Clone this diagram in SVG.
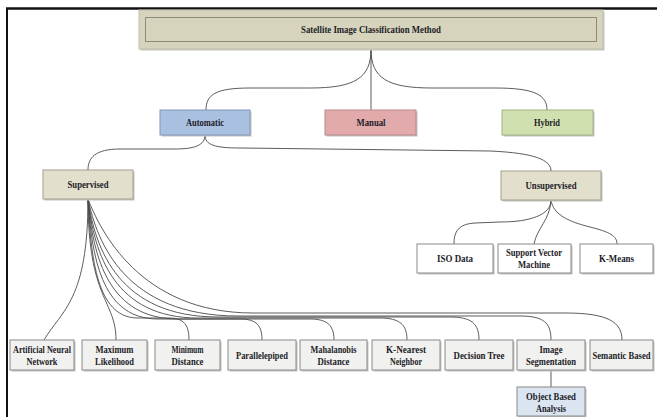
<svg xmlns="http://www.w3.org/2000/svg" width="657" height="417" viewBox="0 0 657 417">
<defs>
<style>
text{font-family:"Liberation Serif","Times New Roman",serif;font-weight:bold;font-size:10.5px;fill:#1c1c28;text-anchor:middle}
.sh{fill:#c4c4c0}
.con path{fill:none;stroke:#4a4a4a;stroke-width:0.9}
.leaf{fill:#f1f1ef;stroke:#8a8a88;stroke-width:1}
.white{fill:#ffffff;stroke:#8a8a88;stroke-width:1}
.beige{fill:#e2e0cd;stroke:#a3a08c;stroke-width:1}
</style>
</defs>
<rect width="657" height="417" fill="#ffffff"/>
<line x1="6" y1="8.5" x2="657" y2="8.5" stroke="#111" stroke-width="2.5"/>
<line x1="7" y1="8" x2="7" y2="417" stroke="#111" stroke-width="2"/>

<g class="con">
<path d="M371 49 C371 78 355 88 310 88 L250 88 C215 88 206 95 206 110"/>
<path d="M371 49 L371 110"/>
<path d="M371 49 C371 78 387 88 432 88 L495 88 C535 88 547 95 547 110"/>
<path d="M205 135 C205 145 195 149 175 149 L120 149 C95 149 88 158 88 170"/>
<path d="M205 135 C205 145 215 148 240 148 L490 151 C535 153 551 160 551 171"/>
<path d="M551 200 C551 215 530 222 500 222 L475 223 C458 224 454 232 454 244"/>
<path d="M551 200 C550 220 537 228 534 244"/>
<path d="M551 200 C553 215 570 222 590 227 C610 232 617 236 617 244"/>
<path d="M88 199 C88 300 62 310 44 340"/>
<path d="M88 199 C88 300 116 300 116 340"/>
<path d="M88 199 C91 270 100.5 318 138 318 L169 318 C184 318 189 325 189 340"/>
<path d="M88 199 C92 265 105 319 158 319 L240 319 C257 319 262 326 262 340"/>
<path d="M88 199 C93 260 110 319 178 319 L310 319 C328 319 334 326 334 340"/>
<path d="M88 199 C94 255 115 318 198 318 L380 318 C400 318 407 325 407 340"/>
<path d="M88 199 C95 250 120 317 218 317 L450 317 C472 317 479 324 479 340"/>
<path d="M88 199 C97 242 125 316 238 316 L520 316 C544 316 551 323 551 340"/>
<path d="M88 199 C100 230 140 313 253 313 L565 313 C608 313 622 322 622 340"/>
<path d="M551 370 L551 387"/>
</g>

<g id="title">
<rect class="sh" x="140.5" y="11.5" width="464" height="39"/>
<rect x="139" y="10" width="464" height="39" fill="#d6d4bd" stroke="#c2c0aa" stroke-width="1"/>
<rect x="145.5" y="17.5" width="451" height="24" fill="none" stroke="#8e8c78" stroke-width="1"/>
<text x="371" y="32.5" textLength="140" lengthAdjust="spacingAndGlyphs">Satellite Image Classification Method</text>
</g>

<g id="automatic">
<rect class="sh" x="161.5" y="111.5" width="90" height="25"/>
<rect x="160" y="110" width="90" height="25" fill="#a9c0e0" stroke="#8098b8" stroke-width="1"/>
<text x="205" y="126" textLength="38" lengthAdjust="spacingAndGlyphs">Automatic</text>
</g>
<g id="manual">
<rect class="sh" x="326.5" y="111.5" width="91" height="25"/>
<rect x="325" y="110" width="91" height="25" fill="#e2aaab" stroke="#b88a8b" stroke-width="1"/>
<text x="371" y="126" textLength="29" lengthAdjust="spacingAndGlyphs">Manual</text>
</g>
<g id="hybrid">
<rect class="sh" x="503.5" y="111.5" width="91" height="25"/>
<rect x="502" y="110" width="91" height="25" fill="#d0e1af" stroke="#a0b284" stroke-width="1"/>
<text x="547" y="126" textLength="26" lengthAdjust="spacingAndGlyphs">Hybrid</text>
</g>

<g id="supervised">
<rect class="sh" x="44.5" y="171.5" width="90" height="29"/>
<rect class="beige" x="43" y="170" width="90" height="29"/>
<text x="88" y="188" textLength="41" lengthAdjust="spacingAndGlyphs">Supervised</text>
</g>
<g id="unsupervised">
<rect class="sh" x="502.5" y="172.5" width="100" height="29"/>
<rect class="beige" x="501" y="171" width="100" height="29"/>
<text x="551" y="189" textLength="51" lengthAdjust="spacingAndGlyphs">Unsupervised</text>
</g>

<g id="isodata">
<rect class="sh" x="418.5" y="245.5" width="76" height="29"/>
<rect class="white" x="417" y="244" width="76" height="29"/>
<text x="455" y="262" textLength="36" lengthAdjust="spacingAndGlyphs">ISO Data</text>
</g>
<g id="svm">
<rect class="sh" x="499.5" y="245.5" width="73" height="29"/>
<rect class="white" x="498" y="244" width="73" height="29"/>
<text x="534" y="256" textLength="56" lengthAdjust="spacingAndGlyphs">Support Vector</text>
<text x="534" y="268" textLength="32" lengthAdjust="spacingAndGlyphs">Machine</text>
</g>
<g id="kmeans">
<rect class="sh" x="581.5" y="245.5" width="73" height="29"/>
<rect class="white" x="580" y="244" width="73" height="29"/>
<text x="616.5" y="262" textLength="35" lengthAdjust="spacingAndGlyphs">K-Means</text>
</g>

<g id="ann">
<rect class="sh" x="11.5" y="341.5" width="64" height="30"/>
<rect class="leaf" x="10" y="340" width="64" height="30"/>
<text x="42" y="353" textLength="58" lengthAdjust="spacingAndGlyphs">Artificial Neural</text>
<text x="42" y="365" textLength="31" lengthAdjust="spacingAndGlyphs">Network</text>
</g>
<g id="ml">
<rect class="sh" x="83.5" y="341.5" width="65" height="30"/>
<rect class="leaf" x="82" y="340" width="65" height="30"/>
<text x="114.5" y="353" textLength="38" lengthAdjust="spacingAndGlyphs">Maximum</text>
<text x="114.5" y="365" textLength="39" lengthAdjust="spacingAndGlyphs">Likelihood</text>
</g>
<g id="mind">
<rect class="sh" x="156.5" y="341.5" width="65" height="30"/>
<rect class="leaf" x="155" y="340" width="65" height="30"/>
<text x="187.5" y="353" textLength="32" lengthAdjust="spacingAndGlyphs">Minimum</text>
<text x="187.5" y="365" textLength="32" lengthAdjust="spacingAndGlyphs">Distance</text>
</g>
<g id="parallelepiped">
<rect class="sh" x="229.5" y="341.5" width="68" height="30"/>
<rect class="leaf" x="228" y="340" width="68" height="30"/>
<text x="262" y="359" textLength="52" lengthAdjust="spacingAndGlyphs">Parallelepiped</text>
</g>
<g id="mahalanobis">
<rect class="sh" x="301.5" y="341.5" width="67" height="30"/>
<rect class="leaf" x="300" y="340" width="67" height="30"/>
<text x="333.5" y="353" textLength="46" lengthAdjust="spacingAndGlyphs">Mahalanobis</text>
<text x="333.5" y="365" textLength="32" lengthAdjust="spacingAndGlyphs">Distance</text>
</g>
<g id="knn">
<rect class="sh" x="373.5" y="341.5" width="68" height="30"/>
<rect class="leaf" x="372" y="340" width="68" height="30"/>
<text x="406" y="353" textLength="40" lengthAdjust="spacingAndGlyphs">K-Nearest</text>
<text x="406" y="365" textLength="32" lengthAdjust="spacingAndGlyphs">Neighbor</text>
</g>
<g id="decisiontree">
<rect class="sh" x="446.5" y="341.5" width="68" height="30"/>
<rect class="leaf" x="445" y="340" width="68" height="30"/>
<text x="479" y="359" textLength="51" lengthAdjust="spacingAndGlyphs">Decision Tree</text>
</g>
<g id="imageseg">
<rect class="sh" x="518.5" y="341.5" width="68" height="30"/>
<rect class="leaf" x="517" y="340" width="68" height="30"/>
<text x="551" y="353" textLength="23" lengthAdjust="spacingAndGlyphs">Image</text>
<text x="551" y="365" textLength="50" lengthAdjust="spacingAndGlyphs">Segmentation</text>
</g>
<g id="semantic">
<rect class="sh" x="591.5" y="341.5" width="63" height="30"/>
<rect class="leaf" x="590" y="340" width="63" height="30"/>
<text transform="translate(621.5 358.5) scale(0.82 1)" x="0" y="0">Semantic Based</text>
</g>
<g id="objectbased">
<rect class="sh" x="518.5" y="388.5" width="68" height="30"/>
<rect x="517" y="387" width="68" height="29" fill="#dbe5f1" stroke="#8a8a88" stroke-width="1"/>
<text x="551" y="400" textLength="50" lengthAdjust="spacingAndGlyphs">Object Based</text>
<text x="551" y="412" textLength="30" lengthAdjust="spacingAndGlyphs">Analysis</text>
</g>
</svg>
